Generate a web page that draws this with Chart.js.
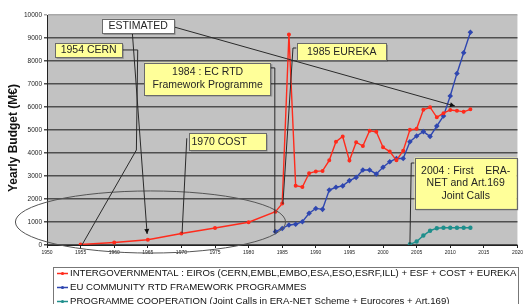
<!DOCTYPE html>
<html>
<head>
<meta charset="utf-8">
<script src="https://cdn.jsdelivr.net/npm/chart.js@4"></script>
<style>
html,body{margin:0;padding:0;background:#fff;}
canvas{display:block;}
</style>
</head>
<body>
<canvas id="c" width="525" height="304"></canvas>
<script>
// ---- data ----
const xTicks = [1950,1955,1960,1965,1970,1975,1980,1985,1990,1995,2000,2005,2010,2015,2020];
const yTicks = [0,1000,2000,3000,4000,5000,6000,7000,8000,9000,10000];

const yTitle = 'Yearly Budget (M€)';
const seriesLabels = [
  "INTERGOVERNMENTAL : EIROs (CERN,EMBL,EMBO,ESA,ESO,ESRF,ILL) + ESF + COST + EUREKA",
  "EU COMMUNITY RTD FRAMEWORK PROGRAMMES",
  "PROGRAMME COOPERATION (Joint Calls in ERA-NET Scheme + Eurocores + Art.169)"
];

const interYears = [1955,1960,1965,1970,1975,1980,1984,1985,1986,1987,1988,1989,1990,1991,1992,1993,1994,1995,1996,1997,1998,1999,2000,2001,2002,2003,2004,2005,2006,2007,2008,2009,2010,2011,2012,2013];
const interValues = [20,110,230,500,740,990,1450,1800,9150,2580,2520,3120,3200,3220,3680,4490,4720,3670,4470,4300,4970,4920,4250,4060,3680,4100,5010,5050,5880,5990,5550,5730,5870,5840,5790,5900];

const fpYears = [1984,1985,1986,1987,1988,1989,1990,1991,1992,1993,1994,1995,1996,1997,1998,1999,2000,2001,2002,2003,2004,2005,2006,2007,2008,2009,2010,2011,2012,2013];
const fpValues = [580,720,870,900,1010,1380,1590,1550,2390,2510,2570,2800,2940,3260,3260,3090,3380,3620,3760,3760,4490,4740,4930,4720,5170,5610,6480,7460,8360,9250];

const coopYears = [2004,2005,2006,2007,2008,2009,2010,2011,2012,2013];
const coopValues = [30,150,410,620,730,750,750,750,750,750];

const seriesColors = ['#ff2b1c','#2f47b0','#1f8f8c'];

// ---- annotations (in data units: years / M€) ----
const notes = [
  {text:['ESTIMATED'], x0:1958.2, x1:1968.9, y0:9830, y1:9200, fill:'#ffffff'},
  {text:['1954 CERN'], x0:1951.2, x1:1961.2, y0:8780, y1:8160, fill:'#ffff99'},
  {text:['1984 : EC RTD','Framework Programme'], x0:1964.5, x1:1983.3, y0:7930, y1:6520, fill:'#ffff99'},
  {text:['1985 EUREKA'], x0:1987.2, x1:2000.5, y0:8770, y1:8040, fill:'#ffff99'},
  {text:['1970 COST'], x0:1971.2, x1:1982.6, y0:4860, y1:4130, fill:'#ffff99', align:'left'},
  {text:['2004 : First    ERA-','NET and Art.169','Joint Calls'], x0:2004.7, x1:2019.9, y0:3800, y1:1570, fill:'#ffff99'}
];
const connectors = [
  {pts:[[1968.9,9480],[2010.7,6040]], arrow:true},
  {pts:[[1962.7,9220],[1964.9,480]], arrow:true},
  {pts:[[1961.2,8480],[1963.5,8480],[1963.3,4130],[1955.2,0]]},
  {pts:[[1983.3,7700],[1983.9,7700],[1983.9,520]]},
  {pts:[[1987.1,8565],[1986.6,8565],[1985.1,1780]]},
  {pts:[[1970.8,4640],[1970.1,510]]},
  {pts:[[2004.7,3565],[2004.2,3565],[2004.0,20]]}
];
const ellipse = {cx:1965.4, cy:1000, rx:20.1, ry:1350};

function pairs(xs, ys){ return xs.map((x,i)=>({x:x, y:ys[i]})); }

const FONT = '"Liberation Sans", Arial, sans-serif';

const bgPlugin = {
  id:'bg',
  beforeDraw(chart){
    const {ctx, chartArea:a} = chart;
    ctx.save();
    ctx.fillStyle = '#c2c2c2';
    ctx.fillRect(a.left, a.top, a.right-a.left, a.bottom-a.top);
    ctx.restore();
  }
};

const notePlugin = {
  id:'notes',
  afterDatasetsDraw(chart){
    const ctx = chart.ctx;
    const X = v => chart.scales.x.getPixelForValue(v);
    const Y = v => chart.scales.y.getPixelForValue(v);
    ctx.save();
    // ellipse
    ctx.strokeStyle = '#555';
    ctx.lineWidth = 1;
    ctx.beginPath();
    const ecx = X(ellipse.cx), ecy = Y(ellipse.cy);
    const erx = X(ellipse.cx+ellipse.rx)-ecx, ery = ecy - Y(ellipse.cy+ellipse.ry);
    ctx.ellipse(ecx, ecy, erx, ery, 0, 0, Math.PI*2);
    ctx.stroke();
    // connectors
    ctx.strokeStyle = '#2a2a2a';
    ctx.fillStyle = '#111';
    connectors.forEach(c=>{
      ctx.beginPath();
      c.pts.forEach((p,i)=>{
        const px = X(p[0]), py = Y(p[1]);
        if(i===0) ctx.moveTo(px,py); else ctx.lineTo(px,py);
      });
      ctx.stroke();
      if(c.arrow){
        const n = c.pts.length;
        const ax = X(c.pts[n-1][0]), ay = Y(c.pts[n-1][1]);
        const bx = X(c.pts[n-2][0]), by = Y(c.pts[n-2][1]);
        const ang = Math.atan2(ay-by, ax-bx);
        const L = 5, W = 2.5;
        ctx.beginPath();
        ctx.moveTo(ax, ay);
        ctx.lineTo(ax - L*Math.cos(ang) + W*Math.sin(ang), ay - L*Math.sin(ang) - W*Math.cos(ang));
        ctx.lineTo(ax - L*Math.cos(ang) - W*Math.sin(ang), ay - L*Math.sin(ang) + W*Math.cos(ang));
        ctx.closePath();
        ctx.fill();
      }
    });
    // boxes
    notes.forEach(n=>{
      const x0 = X(n.x0), x1 = X(n.x1), y0 = Y(n.y0), y1 = Y(n.y1);
      ctx.fillStyle = 'rgba(0,0,0,0.25)';
      ctx.fillRect(x0+1.5, y0+1.5, x1-x0, y1-y0);
      ctx.fillStyle = n.fill;
      ctx.fillRect(x0, y0, x1-x0, y1-y0);
      ctx.strokeStyle = '#6a6a6a';
      ctx.lineWidth = 1;
      ctx.strokeRect(Math.round(x0)+0.5, Math.round(y0)+0.5, Math.round(x1-x0), Math.round(y1-y0));
      ctx.fillStyle = '#262626';
      ctx.font = '10.5px ' + FONT;
      ctx.textBaseline = 'middle';
      const lh = 12.5;
      const h = y1 - y0;
      const startY = y0 + h/2 - (n.text.length-1)*lh/2;
      n.text.forEach((t,i)=>{
        if(n.align==='left'){ ctx.textAlign='left'; ctx.fillText(t, x0+2, startY+i*lh); }
        else { ctx.textAlign='center'; ctx.fillText(t, (x0+x1)/2, startY+i*lh); }
      });
    });
    ctx.restore();
  }
};

const extrasPlugin = {
  id:'boxLegend',
  afterDraw(chart){
    const ctx = chart.ctx;
    const a = chart.chartArea;
    ctx.save();
    // y axis title
    ctx.translate(14, (a.top + a.bottom)/2 + 8);
    ctx.rotate(-Math.PI/2);
    ctx.font = 'bold 12px ' + FONT;
    ctx.fillStyle = '#111';
    ctx.textAlign = 'center';
    ctx.textBaseline = 'middle';
    ctx.fillText(yTitle, 0, 0);
    ctx.restore();

    ctx.save();
    const bx = a.left + 6, by = a.bottom + 22, bw = 465, bh = 60;
    ctx.strokeStyle = '#777';
    ctx.lineWidth = 1;
    ctx.strokeRect(bx+0.5, by+0.5, bw, bh);
    ctx.font = '9.6px ' + FONT;
    ctx.textBaseline = 'middle';
    ctx.textAlign = 'left';
    chart.data.datasets.forEach((ds,i)=>{
      const y = by + 6.5 + i*14;
      ctx.strokeStyle = ds.borderColor;
      ctx.lineWidth = 1.5;
      ctx.beginPath();
      ctx.moveTo(bx+4, y); ctx.lineTo(bx+15, y); ctx.stroke();
      ctx.fillStyle = ds.borderColor;
      ctx.beginPath(); ctx.arc(bx+9.5, y, 1.6, 0, Math.PI*2); ctx.fill();
      ctx.fillStyle = '#111';
      ctx.fillText(ds.label, bx+17, y);
    });
    ctx.restore();
  }
};

new Chart(document.getElementById('c'), {
  type:'line',
  data:{
    datasets:[
      {label:seriesLabels[0], data:pairs(interYears, interValues), borderColor:seriesColors[0], backgroundColor:seriesColors[0], borderWidth:1.4, pointRadius:1.3, pointStyle:'circle', tension:0},
      {label:seriesLabels[1], data:pairs(fpYears, fpValues), borderColor:seriesColors[1], backgroundColor:seriesColors[1], borderWidth:1.4, pointRadius:1.8, pointStyle:'rectRot', tension:0},
      {label:seriesLabels[2], data:pairs(coopYears, coopValues), borderColor:seriesColors[2], backgroundColor:seriesColors[2], borderWidth:1.4, pointRadius:1.5, pointStyle:'circle', tension:0}
    ]
  },
  options:{
    responsive:false,
    animation:false,
    devicePixelRatio:1,
    layout:{padding:{left:0,right:5,top:15,bottom:0}},
    plugins:{legend:{display:false}, tooltip:{enabled:false}},
    scales:{
      x:{
        type:'linear', min:xTicks[0], max:xTicks[xTicks.length-1],
        afterBuildTicks(s){ s.ticks = xTicks.map(v=>({value:v})); },
        ticks:{callback:v=>String(v), font:{size:5, family:FONT}, color:'#222', padding:2, maxRotation:0, autoSkip:false},
        grid:{drawOnChartArea:false, drawTicks:true, tickLength:3, color:'#222'},
        border:{color:'#222', width:1},
        afterFit(s){ s.height = 59; }
      },
      y:{
        min:yTicks[0], max:yTicks[yTicks.length-1],
        afterBuildTicks(s){ s.ticks = yTicks.map(v=>({value:v})); },
        ticks:{callback:v=>String(v), font:{size:6.5, family:FONT}, color:'#222', padding:2},
        grid:{color:ctx=> (ctx.tick && ctx.tick.value===10000) ? '#a8a8a8' : '#4f4f4f', lineWidth:1.5, tickLength:3},
        border:{color:'#222', width:1},
        title:{display:false},
        afterFit(s){ s.width = 47; }
      }
    }
  },
  plugins:[bgPlugin, notePlugin, extrasPlugin]
});
</script>
</body>
</html>
